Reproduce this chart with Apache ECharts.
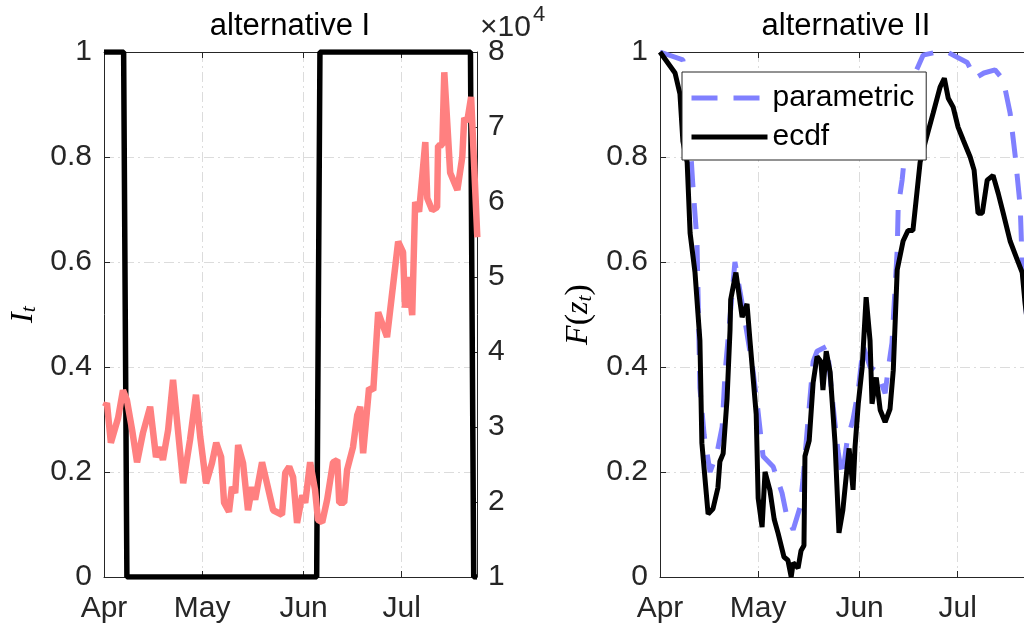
<!DOCTYPE html>
<html>
<head>
<meta charset="utf-8">
<script src="https://cdn.jsdelivr.net/npm/echarts@6/dist/echarts.min.js"></script>
<style>
html, body { margin: 0; padding: 0; background: #fff; }
#main { width: 1024px; height: 629px; }
</style>
</head>
<body>
<div id="main"></div>
<script>
var myChart = echarts.init(document.getElementById('main'));

// days counted from 1 April
var DAY = 86400000;
var startDate = Date.UTC(2020, 3, 1);
var lastDay = 114;
var monthNames = ['Jan', 'Feb', 'Mar', 'Apr', 'May', 'Jun', 'Jul', 'Aug', 'Sep', 'Oct', 'Nov', 'Dec'];

// alternative I: indicator I_t (left axis)
var indDays = [0, 6, 7, 65, 66, 112, 113, 114];
var indVals = [1, 1, 0, 0, 1, 1, 0, 0];

// alternative I: counts, x10^4 (right axis)
var countDays = [0.3, 0.9, 2.1, 4.3, 5.8, 7.0, 8.6, 10.1, 11.9, 14.1,
    15.9, 17.1, 18.0, 19.6, 21.1, 22.3, 24.2, 26.3, 28.1, 29.4,
    31.2, 33.0, 34.3, 35.8, 36.7, 38.2, 39.1, 40.1, 41.0, 42.5,
    44.0, 45.3, 46.2, 48.3, 49.8, 51.7, 54.4, 55.4, 56.6, 57.8,
    59.0, 60.6, 61.5, 63.0, 64.5, 65.4, 66.7, 68.2, 70.0, 71.3,
    71.9, 73.4, 74.3, 76.1, 77.4, 78.3, 79.2, 81.0, 82.3, 83.8,
    86.5, 89.9, 91.4, 92.0, 93.0, 94.2, 95.1, 96.3, 98.2, 98.8,
    100.3, 101.8, 102.1, 103.4, 104.0, 105.8, 108.0, 109.5, 110.1, 111.0,
    112.2, 114.1];
var countVals = [3.27, 3.32, 2.79, 3.12, 3.49, 3.36, 2.96, 2.53, 2.92, 3.27,
    2.60, 2.73, 2.56, 2.96, 3.63, 3.09, 2.25, 2.83, 3.43, 2.87,
    2.25, 2.52, 2.79, 2.60, 1.99, 1.87, 2.20, 2.12, 2.76, 2.52,
    1.89, 2.20, 2.03, 2.53, 2.25, 1.89, 1.83, 2.39, 2.47, 2.33,
    1.72, 2.09, 1.99, 2.53, 2.16, 1.76, 1.73, 2.03, 2.53, 2.56,
    1.99, 1.99, 2.43, 2.73, 3.16, 3.27, 2.65, 3.52, 3.49, 4.53,
    4.20, 5.47, 5.33, 4.59, 5.00, 4.49, 6.00, 5.87, 6.80, 6.05,
    5.89, 5.93, 6.75, 6.76, 7.73, 6.39, 6.16, 6.60, 7.12, 7.07,
    7.40, 5.53];

// alternative II: parametric F(z_t)
var paramDays = [0, 7, 8.5, 10, 11.3, 12.2, 13.5, 15.3, 17.4, 19,
    19.9, 22.9, 25.4, 28.4, 29.7, 31.5, 34.6, 37.3, 38.8, 40.7,
    42.8, 43.7, 45, 46.8, 48, 51.1, 52.6, 54.4, 55.7, 57.2,
    59, 60.6, 62.1, 64.2, 66.4, 68.8, 69.7, 70.9, 72.5, 72.8,
    74, 76, 78, 80.4, 84.7, 87.8, 93.9, 96.3, 99, 102.4,
    104.9, 107, 108.6, 110.1, 110.7, 112];
var paramVals = [1.0, 0.985, 0.9, 0.75, 0.64, 0.36, 0.27, 0.2, 0.236, 0.286,
    0.39, 0.6, 0.51, 0.394, 0.33, 0.23, 0.21, 0.16, 0.114, 0.09,
    0.133, 0.185, 0.28, 0.41, 0.43, 0.44, 0.343, 0.24, 0.19, 0.26,
    0.3, 0.356, 0.44, 0.4, 0.39, 0.35, 0.394, 0.446, 0.623, 0.705,
    0.756, 0.88, 0.96, 0.994, 1.0, 1.0, 0.98, 0.95, 0.96, 0.966,
    0.947, 0.884, 0.8, 0.705, 0.594, 0.5];

// alternative II: ecdf F(z_t)
var ecdfDays = [0, 4.6, 6.1, 7.0, 8.3, 9.2, 10.7, 12.2, 12.8, 14.7,
    16.2, 17.7, 18.3, 19.3, 20.5, 21.4, 21.6, 23.2, 25.1, 26.6,
    27.5, 29.4, 30.0, 31.2, 32.1, 33.6, 34.9, 36.1, 37.9, 39.1,
    40.1, 40.7, 42.2, 43.1, 44.0, 44.3, 45.6, 46.8, 48.0, 49.2,
    49.8, 50.8, 52.0, 53.5, 54.7, 55.9, 57.2, 57.8, 59.0, 59.6,
    60.6, 61.8, 63.0, 64.2, 64.8, 66.1, 67.3, 68.8, 70.3, 71.3,
    72.5, 74.3, 75.8, 77.3, 79.5, 81.0, 83.5, 85.6, 86.9, 88.1,
    89.6, 91.1, 92.7, 94.8, 96.0, 97.2, 98.5, 100.0, 101.8, 103.4,
    104.9, 107.0, 109.2, 110.7, 111.6, 113.0];
var ecdfVals = [1.0, 0.96, 0.92, 0.83, 0.79, 0.655, 0.58, 0.45, 0.255, 0.12,
    0.13, 0.17, 0.22, 0.235, 0.34, 0.47, 0.528, 0.58, 0.495, 0.52,
    0.45, 0.31, 0.15, 0.095, 0.2, 0.165, 0.11, 0.083, 0.038, 0.032,
    0.0, 0.027, 0.017, 0.05, 0.06, 0.23, 0.26, 0.37, 0.42, 0.41,
    0.356, 0.43, 0.39, 0.255, 0.084, 0.128, 0.21, 0.245, 0.166, 0.247,
    0.33, 0.4, 0.533, 0.45, 0.33, 0.38, 0.318, 0.295, 0.32, 0.394,
    0.585, 0.64, 0.66, 0.66, 0.79, 0.827, 0.884, 0.933, 0.95, 0.912,
    0.895, 0.857, 0.832, 0.8, 0.775, 0.693, 0.693, 0.756, 0.765, 0.73,
    0.693, 0.64, 0.604, 0.58, 0.52, 0.45];

var sans = 'Liberation Sans';
var serif = 'Liberation Serif';
var axisColor = '#262626';

function toPoints(days, vals) {
    return days.map(function (d, i) {
        return [startDate + d * DAY, vals[i]];
    });
}

function xAxisFor(gridIndex, position) {
    var bottom = position === 'bottom';
    return {
        type: 'time',
        gridIndex: gridIndex,
        position: position,
        min: startDate,
        max: startDate + lastDay * DAY,
        minInterval: 28 * DAY,
        maxInterval: 31 * DAY,
        axisLine: { show: true, onZero: false, lineStyle: { color: axisColor, width: 1 } },
        axisTick: { show: true, inside: true, length: 6, lineStyle: { color: axisColor } },
        axisLabel: {
            show: bottom,
            fontSize: 30,
            fontFamily: sans,
            color: axisColor,
            margin: 17,
            formatter: function (v) {
                return monthNames[new Date(v).getUTCMonth()];
            }
        },
        splitLine: {
            show: bottom,
            lineStyle: { color: '#dcdcdc', width: 1, type: [10, 4, 2, 4] }
        }
    };
}

var richName = {
    i: { fontFamily: serif, fontStyle: 'italic', fontSize: 32, color: '#000' },
    p: { fontFamily: serif, fontSize: 34, color: '#000' },
    s: { fontFamily: serif, fontStyle: 'italic', fontSize: 22, color: '#000',
         verticalAlign: 'bottom', lineHeight: 10 }
};

function unitAxis(gridIndex, name) {
    return {
        type: 'value',
        gridIndex: gridIndex,
        position: 'left',
        min: 0,
        max: 1,
        interval: 0.2,
        axisLine: { show: true, lineStyle: { color: axisColor, width: 1 } },
        axisTick: { show: true, inside: true, length: 6, lineStyle: { color: axisColor } },
        axisLabel: { fontSize: 30, fontFamily: sans, color: axisColor, margin: 12 },
        splitLine: { show: true, lineStyle: { color: '#dcdcdc', width: 1, type: [10, 4, 2, 4] } },
        name: name,
        nameLocation: 'middle',
        nameRotate: 90,
        nameGap: 64,
        nameTextStyle: { rich: richName }
    };
}

option = {
    useUTC: true,
    animation: false,
    backgroundColor: '#fff',
    grid: [
        { left: 104, width: 373, top: 52, bottom: 52, outerBoundsMode: 'none' },
        { left: 660, width: 373, top: 52, bottom: 52, outerBoundsMode: 'none' }
    ],
    graphic: [
        { type: 'text', x: 290, y: 11,
          style: { text: 'alternative I', align: 'center', verticalAlign: 'top',
                   fontSize: 31, fontFamily: sans, fill: '#000' } },
        { type: 'text', x: 846, y: 11,
          style: { text: 'alternative II', align: 'center', verticalAlign: 'top',
                   fontSize: 31, fontFamily: sans, fill: '#000' } },
        { type: 'text', x: 480, y: 13,
          style: { text: '\u00d710', fontSize: 30, fontFamily: sans, fill: axisColor } },
        { type: 'text', x: 533, y: 4,
          style: { text: '4', fontSize: 22, fontFamily: sans, fill: axisColor } }
    ],
    legend: {
        orient: 'vertical',
        left: 682,
        top: 72,
        padding: [11, 12, 8, 7],
        itemGap: 9,
        itemWidth: 76,
        itemHeight: 14,
        backgroundColor: '#fff',
        borderColor: axisColor,
        borderWidth: 1,
        borderRadius: 0,
        itemStyle: { opacity: 0 },
        lineStyle: { width: 5 },
        textStyle: { fontSize: 30, fontFamily: sans, color: '#000' },
        data: ['parametric', 'ecdf']
    },
    xAxis: [
        xAxisFor(0, 'bottom'),
        xAxisFor(0, 'top'),
        xAxisFor(1, 'bottom'),
        xAxisFor(1, 'top')
    ],
    yAxis: [
        unitAxis(0, '{i|I}{s|t}'),
        {
            type: 'value',
            gridIndex: 0,
            position: 'right',
            min: 1,
            max: 8,
            interval: 1,
            axisLine: { show: true, lineStyle: { color: axisColor, width: 1 } },
            axisTick: { show: true, inside: true, length: 6, lineStyle: { color: axisColor } },
            axisLabel: { fontSize: 30, fontFamily: sans, color: axisColor, margin: 11 },
            splitLine: { show: false }
        },
        unitAxis(1, '{i|F}{p|(}{i|z}{s|t}{p|)}')
    ],
    series: [{
        name: 'indicator',
        type: 'line',
        xAxisIndex: 0,
        yAxisIndex: 0,
        symbol: 'none',
        lineStyle: { color: '#000', width: 5.5 },
        data: toPoints(indDays, indVals)
    }, {
        name: 'count',
        type: 'line',
        xAxisIndex: 0,
        yAxisIndex: 1,
        symbol: 'none',
        lineStyle: { color: '#ff8080', width: 6.5 },
        data: toPoints(countDays, countVals)
    }, {
        name: 'parametric',
        type: 'line',
        xAxisIndex: 2,
        yAxisIndex: 2,
        symbol: 'none',
        itemStyle: { color: '#8080ff' },
        lineStyle: { color: '#8080ff', width: 5, type: [26, 16] },
        data: toPoints(paramDays, paramVals)
    }, {
        name: 'ecdf',
        type: 'line',
        xAxisIndex: 2,
        yAxisIndex: 2,
        symbol: 'none',
        itemStyle: { color: '#000' },
        lineStyle: { color: '#000', width: 5 },
        data: toPoints(ecdfDays, ecdfVals)
    }]
};

myChart.setOption(option);
</script>
</body>
</html>
